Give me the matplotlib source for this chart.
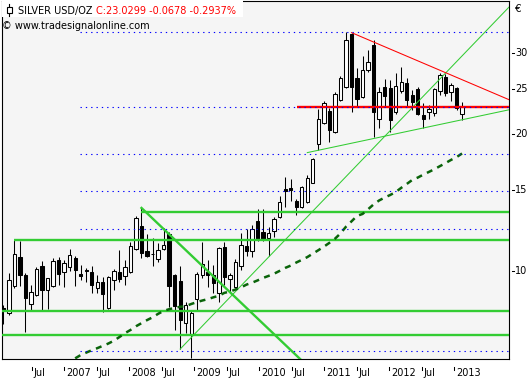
import numpy as np
import matplotlib
matplotlib.use("Agg")
import matplotlib.pyplot as plt
import matplotlib.transforms as mtransforms
from matplotlib.patches import Rectangle
from matplotlib.ticker import NullLocator
from matplotlib.lines import Line2D

# ---------------- data (monthly candles, Feb 2006 .. Jan 2013, EUR/oz) ----------------
opens = [8.27, 8.08, 9.25, 10.72, 9.79, 8.45, 8.84, 10.24, 9.07, 9.25,
         10.56, 9.94, 10.19, 10.67, 9.84, 10.01, 9.94, 9.16, 9.45, 8.28,
         9.54, 9.94, 9.74, 9.94, 11.16, 12.53, 11.05, 10.88, 10.62, 11.16,
         12.04, 9.79, 9.50, 7.67, 7.26, 8.67, 9.79, 9.94, 9.79, 8.94,
         11.27, 9.59, 9.21, 10.24, 11.33, 11.05, 12.86, 12.16, 11.80, 12.22,
         13.12, 15.11, 15.19, 14.23, 13.80, 14.16, 15.57, 18.97, 21.10, 22.42,
         20.16, 23.69, 25.30, 33.06, 26.48, 24.11, 27.57, 31.31, 21.53, 25.30,
         25.17, 22.30, 24.79, 25.80, 24.30, 25.05, 21.96, 22.30, 22.18, 24.79,
         26.61, 24.67, 25.17, 22.10]
highs = [8.41, 9.89, 11.68, 11.62, 9.89, 9.30, 10.19, 10.51, 9.66, 10.67,
         10.72, 10.56, 11.16, 10.78, 10.29, 10.14, 10.24, 9.79, 9.69, 9.74,
         10.09, 11.10, 10.56, 11.56, 13.18, 13.73, 12.04, 11.80, 11.50, 12.40,
         12.16, 9.84, 10.24, 8.54, 8.16, 9.94, 11.56, 10.56, 10.29, 11.27,
         11.56, 9.89, 10.62, 12.10, 12.34, 12.59, 13.66, 13.66, 12.46, 13.12,
         14.59, 16.05, 15.89, 14.38, 15.34, 16.22, 17.68, 22.59, 23.59, 22.76,
         24.67, 26.75, 33.40, 33.30, 27.85, 29.60, 30.50, 32.09, 25.30, 26.35,
         26.21, 27.16, 27.99, 26.48, 24.92, 25.30, 23.35, 23.11, 25.17, 27.16,
         26.97, 25.80, 25.36, 23.50]
lows = [7.63, 8.00, 9.16, 9.25, 7.34, 8.20, 8.80, 8.20, 8.24, 9.20,
        9.30, 9.21, 9.99, 9.25, 9.54, 9.45, 8.94, 8.94, 8.12, 8.25,
        9.07, 9.45, 9.30, 9.90, 11.12, 10.67, 10.72, 10.24, 10.46, 11.10,
        8.33, 7.41, 6.73, 7.30, 6.44, 8.16, 9.64, 9.21, 8.94, 8.54,
        9.30, 8.94, 9.16, 10.04, 10.78, 10.72, 11.62, 11.62, 10.78, 11.86,
        13.05, 13.80, 14.23, 13.25, 13.73, 14.10, 15.55, 18.40, 20.99, 19.17,
        20.10, 23.60, 25.20, 22.30, 22.87, 23.93, 27.30, 19.65, 20.57, 22.87,
        20.16, 22.07, 24.55, 22.87, 22.53, 21.96, 20.57, 21.53, 21.85, 24.30,
        24.17, 23.57, 22.53, 21.40]
closes = [8.20, 9.54, 10.88, 9.79, 8.71, 8.98, 10.09, 9.07, 9.64, 10.51,
          9.84, 10.40, 10.83, 10.04, 9.74, 9.96, 9.30, 9.45, 8.89, 9.69,
          9.99, 9.59, 10.19, 11.33, 13.05, 10.94, 10.78, 10.86, 11.10, 11.39,
          9.25, 8.37, 7.79, 8.41, 8.08, 9.84, 10.35, 9.79, 9.40, 11.22,
          9.69, 9.79, 10.46, 11.39, 11.05, 12.34, 11.74, 11.74, 12.10, 12.99,
          14.16, 14.96, 15.04, 13.80, 15.27, 15.97, 17.59, 21.53, 23.35, 20.36,
          24.42, 26.48, 32.09, 25.30, 23.81, 27.57, 28.72, 22.30, 24.67, 24.17,
          21.42, 25.43, 25.93, 23.69, 23.46, 22.07, 21.53, 22.64, 25.05, 26.88,
          24.55, 25.56, 22.76, 22.90]

# moving average (dark green dashed), first value belongs to candle index 13
ma_first_index = 13
ma_values = [6.42, 6.53, 6.61, 6.69, 6.76, 6.84, 6.92, 7.02, 7.15, 7.29,
             7.41, 7.55, 7.67, 7.79, 7.90, 8.04, 8.16, 8.23, 8.29, 8.33,
             8.36, 8.45, 8.53, 8.60, 8.66, 8.74, 8.81, 8.94, 9.00, 9.09,
             9.19, 9.32, 9.41, 9.52, 9.64, 9.74, 9.85, 9.99, 10.14, 10.26,
             10.42, 10.56, 10.71, 10.90, 11.09, 11.29, 11.51, 11.75, 12.07, 12.49,
             12.83, 13.19, 13.32, 13.64, 13.98, 14.26, 14.47, 14.66, 14.88, 15.20,
             15.50, 15.82, 16.01, 16.25, 16.47, 16.70, 16.96, 17.22, 17.50, 17.75,
             18.08]

x_tick_labels = ["Jul", "2007", "Jul", "2008", "Jul", "2009", "Jul",
                 "2010", "Jul", "2011", "Jul", "2012", "Jul", "2013"]
y_tick_values = [10, 15, 20, 25, 30]

# drawing-tool levels (EUR)
blue_dotted_levels = [33.41, 22.81, 18.04, 14.94, 12.35, 6.67]
green_levels = [13.45, 11.65, 8.16, 7.23]
green_level_starts = [25, 2, -1, -1]
red_level = 22.90

title_black = "SILVER USD/OZ"
title_red = "C:23.0299 -0.0678 -0.2937%"
copyright_text = "\u00a9 www.tradesignalonline.com"

# ---------------- figure ----------------
W, H = 531, 379
fig = plt.figure(figsize=(W / 100, H / 100), dpi=100, facecolor="white")
ax = fig.add_axes([1.5 / W, (H - 359.3) / H, (509.3 - 1.5) / W, (359.3 - 1.0) / H])
ax.set_facecolor("#f5f5f5")
ax.set_yscale("log")
ax.set_ylim(6.39, 39.07)
ax.set_xlim(-0.33, 91.55)
ax.set_xticks([])
ax.set_yticks([])
ax.yaxis.set_minor_locator(NullLocator())
ax.xaxis.set_minor_locator(NullLocator())
for s in ax.spines.values():
    s.set_color("black")
    s.set_linewidth(0.8)

x = np.arange(len(opens))
o = np.array(opens); c = np.array(closes)
h = np.array(highs); l = np.array(lows)

# candles
ax.vlines(x, l, h, color="black", lw=0.75, zorder=2)
up = c >= o
bottoms = np.minimum(o, c)
heights = np.maximum(np.abs(c - o), 0.0001)
ax.bar(x[up], heights[up], bottom=bottoms[up], width=0.6, color="white",
       edgecolor="black", linewidth=0.75, zorder=3)
ax.bar(x[~up], heights[~up], bottom=bottoms[~up], width=0.6, color="black",
       edgecolor="black", linewidth=0.75, zorder=3)

GREEN = "#33cc33"
XR = 91.6
# horizontal thick green lines
for lv, st in zip(green_levels, green_level_starts):
    ax.plot([st, XR], [lv, lv], color=GREEN, lw=1.7, zorder=4, solid_capstyle="butt")
# thick green diagonal
ax.plot([25, 53.7], [13.73, 6.40], color=GREEN, lw=1.7, zorder=4)
# thin green trend lines
ax.plot([32, XR], [6.73, 38.0], color=GREEN, lw=0.75, zorder=4)
ax.plot([55.0, XR], [18.16, 22.56], color=GREEN, lw=0.75, zorder=4)
# red lines
ax.plot([63, XR], [33.3, 23.7], color="#ff0000", lw=0.75, zorder=4)
ax.plot([53.1, XR], [red_level, red_level], color="#ff0000", lw=1.7, zorder=4,
        solid_capstyle="butt")
# blue dotted levels
for lv in blue_dotted_levels:
    ax.plot([13.9, XR], [lv, lv], color="#0000ff", lw=0.8, zorder=5,
            linestyle=(0, (1.2, 3.6)))
# moving average
ma_x = np.arange(ma_first_index, ma_first_index + len(ma_values))
ax.plot(ma_x, ma_values, color="#0a640a", lw=1.8, zorder=4, dashes=(2.4, 2.2))

# ---------------- axes labels ----------------
px_per_idx = 5.527
tick0 = (31.7 - 3.3) / px_per_idx
tick_step = 32.5 / px_per_idx
trans_x = mtransforms.blended_transform_factory(ax.transData, fig.transFigure)
off = mtransforms.ScaledTranslation(1.8 / 100, 0, fig.dpi_scale_trans)
FS = 7.0
for k, lab in enumerate(x_tick_labels):
    t = tick0 + k * tick_step
    ax.add_line(Line2D([t, t], [1 - 366.5 / H, 1 - 370.0 / H], transform=trans_x,
                       color="black", lw=0.75, clip_on=False))
    ax.text(t, 1 - 372.8 / H, lab, transform=trans_x + off, ha="left", va="center",
            fontsize=FS, clip_on=False)

trans_y = mtransforms.blended_transform_factory(fig.transFigure, ax.transData)
for v in y_tick_values:
    ax.add_line(Line2D([511.5 / W, 514.0 / W], [v, v], transform=trans_y,
                       color="black", lw=0.75, clip_on=False))
    ax.text(515.0 / W, v, str(v), transform=trans_y, ha="left", va="center",
            fontsize=FS, clip_on=False)
fig.text(514.5 / W, 1 - 9.5 / H, "\u20ac", ha="left", va="center", fontsize=FS + 0.5)

# ---------------- header ----------------
fig.patches.append(Rectangle((2.0 / W, 1 - 16.5 / H), 241.5 / W, 16.0 / H,
                             transform=fig.transFigure, facecolor="white",
                             edgecolor="none", zorder=1))
fig.add_artist(Line2D([9.4 / W, 9.4 / W], [1 - 3.5 / H, 1 - 16.0 / H],
                      transform=fig.transFigure, color="black", lw=0.8, zorder=2))
fig.patches.append(Rectangle((7.3 / W, 1 - 12.8 / H), 4.3 / W, 6.0 / H,
                             transform=fig.transFigure, facecolor="white",
                             edgecolor="black", lw=0.8, zorder=3))
fig.text(18.0 / W, 1 - 10.8 / H, title_black, ha="left", va="center",
         fontsize=FS, color="black", zorder=4)
fig.text(96.0 / W, 1 - 10.8 / H, title_red, ha="left", va="center",
         fontsize=FS, color="#ff0000", zorder=4)
fig.text(2.0 / W, 1 - 25.8 / H, copyright_text, ha="left", va="center",
         fontsize=FS, color="black", zorder=4)

fig.savefig("out.png", dpi=100, facecolor="white")
